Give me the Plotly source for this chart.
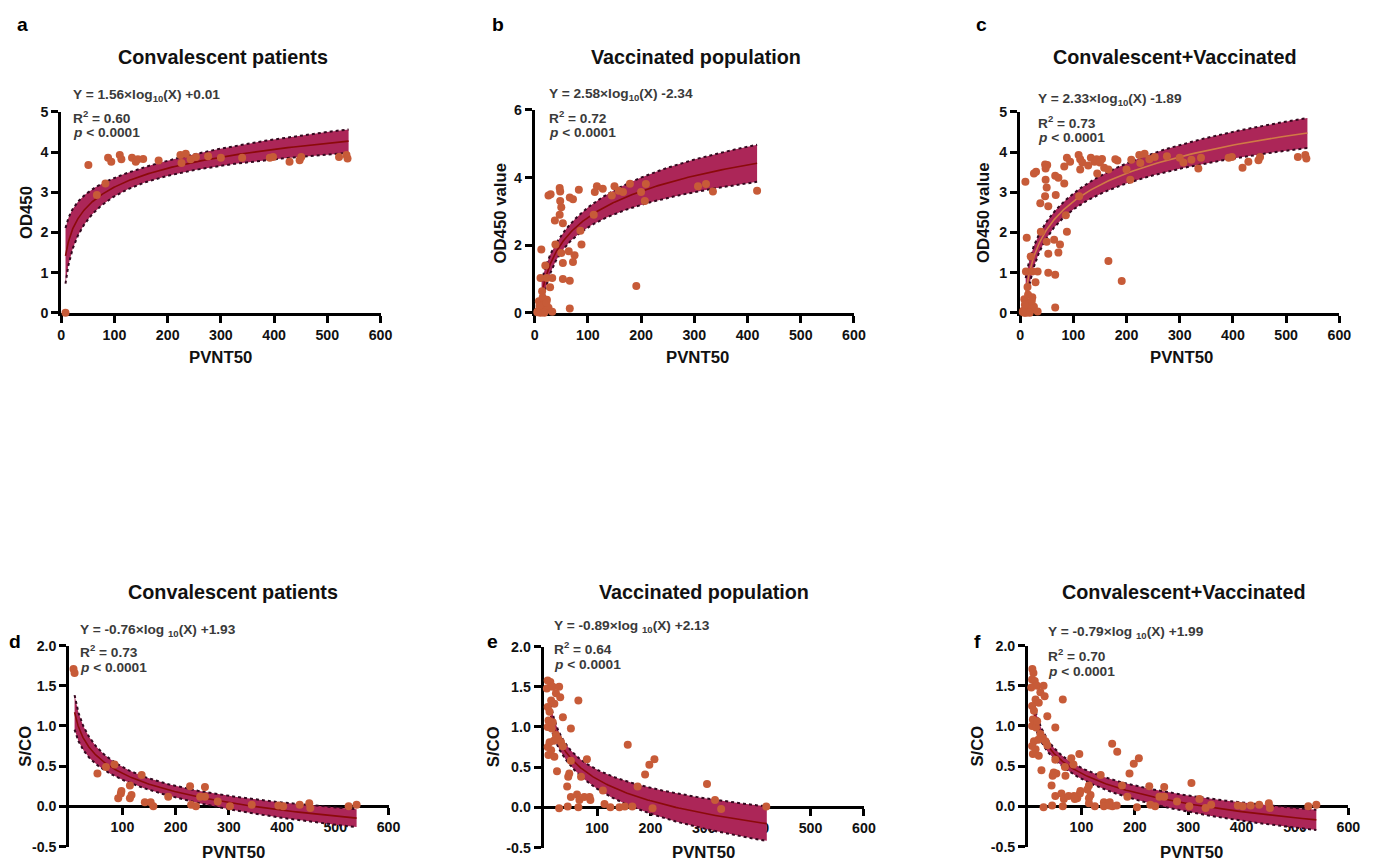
import numpy as np
import plotly.graph_objects as go

W, H = 1374, 862

# ---------------- data ----------------
# Convalescent patients: PVNT50 vs OD450
conv_od_x = [8, 51, 67, 83, 88, 94, 110, 113, 133, 140, 144, 154, 183, 224, 226, 234, 243, 253,
             276, 300, 340, 392, 398, 429, 448, 451, 522, 536, 538]
conv_od_y = [0.00, 3.68, 2.93, 3.22, 3.86, 3.76, 3.93, 3.82, 3.86, 3.76, 3.82, 3.83, 3.79, 3.93, 3.73,
             3.96, 3.82, 3.88, 3.90, 3.86, 3.86, 3.86, 3.88, 3.76, 3.80, 3.88, 3.88, 3.93, 3.84]

# Vaccinated population: PVNT50 vs OD450 value
vacc_od_x = [12.5, 26, 30, 47, 48, 48, 50, 47, 38, 53, 66, 72, 83, 113, 117, 128, 111, 86, 88, 39,
             50, 64, 75, 53, 72, 20, 11, 23, 53, 66, 29, 33, 14, 23, 8, 17, 11, 20, 26, 33,
             11, 6, 66, 145, 150, 158, 166, 179, 191, 200, 207, 209, 307, 322, 335, 418,
             15, 9, 18, 22, 5]
vacc_od_y = [1.87, 3.47, 3.51, 3.69, 3.59, 3.31, 3.12, 2.90, 2.73, 2.65, 3.41, 3.36, 3.64, 3.57, 3.74,
             3.67, 2.90, 2.43, 2.02, 2.02, 1.77, 1.82, 1.70, 1.47, 1.50, 1.40, 1.03, 1.03, 1.00, 0.95,
             0.76, 1.03, 0.64, 0.39, 0.34, 0.25, 0.13, 0.07, 0.15, 0.03, 0.00, 0.05, 0.13, 3.47, 3.74,
             3.61, 3.57, 3.82, 0.79, 3.57, 3.31, 3.81, 3.74, 3.81, 3.59, 3.61,
             0.45, 0.20, 0.00, 0.30, 0.02]

# Extra points only present in the combined OD450 panel
comb_od_extra_x = [10, 166]
comb_od_extra_y = [3.26, 1.29]

# Convalescent patients: PVNT50 vs S/CO
conv_sco_x = [8, 10, 53, 69, 85, 92, 97, 98, 114, 114, 117, 136, 142, 153, 158, 186, 227, 229, 238, 246,
              255, 255, 279, 302, 343, 393, 402, 433, 451, 453, 525, 540]
conv_sco_y = [1.71, 1.66, 0.41, 0.49, 0.52, 0.10, 0.16, 0.19, 0.26, 0.10, 0.14, 0.39, 0.05, 0.05, 0.00,
              0.12, 0.25, 0.02, 0.00, 0.12, 0.24, 0.12, 0.06, 0.00, 0.02, 0.01, 0.00, 0.02, 0.04, -0.02,
              0.00, 0.02]

# Vaccinated population: PVNT50 vs S/CO
vacc_sco_x = [7.5, 12.5, 6, 17, 29, 23, 31, 14, 20, 7.5, 11, 65, 36, 51, 9, 7.5, 15, 17, 23, 27.5,
              19, 32.5, 11, 7.5, 14, 36, 9, 20, 51, 81, 25, 48, 46, 70, 44, 51, 62.5, 67, 76, 86,
              87.5, 65, 29, 45, 111, 114, 125, 142, 152, 166, 157.5, 176, 190, 198, 207.5, 204, 306, 321,
              332.5, 417]
vacc_sco_y = [1.58, 1.56, 1.48, 1.50, 1.50, 1.42, 1.37, 1.33, 1.29, 1.25, 1.19, 1.33, 1.12, 0.98, 1.08,
              1.00, 0.98, 1.06, 0.90, 0.85, 0.83, 0.81, 0.81, 0.75, 0.71, 0.76, 0.65, 0.63, 0.58, 0.60,
              0.45, 0.42, 0.38, 0.38, 0.26, 0.13, 0.16, 0.09, 0.13, 0.13, 0.09, 0.00, -0.01, 0.01, 0.21,
              0.04, 0.00, 0.00, 0.01, 0.01, 0.78, 0.26, 0.41, 0.53, 0.60, -0.01, 0.29, 0.09, -0.02, 0.01]

# Extra points only present in the combined S/CO panel
comb_sco_extra_x = [167, 96]
comb_sco_extra_y = [0.68, 0.65]

# Fit results shown on each panel
panel_letters = ["a", "b", "c", "d", "e", "f"]
panel_titles = ["Convalescent patients", "Vaccinated population", "Convalescent+Vaccinated",
                "Convalescent patients", "Vaccinated population", "Convalescent+Vaccinated"]
y_titles = ["OD450", "OD450 value", "OD450 value", "S/CO", "S/CO", "S/CO"]
x_title = "PVNT50"
fit_slope = [1.56, 2.58, 2.33, -0.76, -0.89, -0.79]
fit_intercept = [0.01, -2.34, -1.89, 1.93, 2.13, 1.99]
fit_r2 = ["0.60", "0.72", "0.73", "0.73", "0.64", "0.70"]
fit_p = "0.0001"
fit_xmin = [8, 13, 10.5, 10, 13, 10]
fit_xmax = [540, 418, 540, 540, 418, 540]

x_ticks_top = [0, 100, 200, 300, 400, 500, 600]
x_ticks_bottom = [100, 200, 300, 400, 500, 600]
y_ticks = [[0, 1, 2, 3, 4, 5], [0, 2, 4, 6], [0, 1, 2, 3, 4, 5],
           [-0.5, 0, 0.5, 1.0, 1.5, 2.0], [-0.5, 0, 0.5, 1.0, 1.5, 2.0], [-0.5, 0, 0.5, 1.0, 1.5, 2.0]]
y_ticktext_bottom = ["-0.5", "0.0", "0.5", "1.0", "1.5", "2.0"]
y_ranges = [[0, 5], [0, 6], [0, 5], [-0.5, 2.0], [-0.5, 2.0], [-0.5, 2.0]]

panel_x = [conv_od_x, vacc_od_x, conv_od_x + vacc_od_x + comb_od_extra_x,
           conv_sco_x, vacc_sco_x, conv_sco_x + vacc_sco_x + comb_sco_extra_x]
panel_y = [conv_od_y, vacc_od_y, conv_od_y + vacc_od_y + comb_od_extra_y,
           conv_sco_y, vacc_sco_y, conv_sco_y + vacc_sco_y + comb_sco_extra_y]

# ---------------- layout geometry (target pixels in the photographed page) ----------------
# (left, right, top, bottom) of each plotting area
boxes = [(61, 380, 112, 313), (534, 853, 110, 313), (1019, 1338, 112, 313),
         (69, 388, 646, 847), (543, 863, 647, 848), (1027, 1347, 646, 847)]
letter_pos = [(22, 25), (497, 25), (980, 25), (15, 642), (492, 642), (976, 642)]
title_pos = [(223, 57), (695, 57), (1174, 57), (233, 592), (703, 592), (1183, 592)]
eq_pos = [(72, 96, 117, 133), (547, 95, 117, 133), (1036, 100, 122, 138),
          (79, 631, 651, 668), (552, 627, 648, 665), (1046, 633, 655, 672)]
ytitle_pos = [(27, 213), (500, 213), (983, 213), (25, 747), (493, 747), (977, 747)]
xtitle_pos = [(220, 358), (697, 358), (1180, 358), (233, 853), (703, 853), (1190, 853)]

# the page photograph is slightly shrunk / offset versus the figure; compensate
SX, CX = 0.9875, 3.8
SY, CY = 0.982, 8.0
FS = 1.0 / 0.985

PT_COLOR = "#C75B38"
BAND_COLOR = "rgb(172,38,88)"
EDGE_COLOR = "#35081f"
CURVE_COLORS = ["#8B0A0A", "#8B0A0A", "#D17A45", "#8B0A0A", "#8B0A0A", "#8B0A0A"]
FONT = "Liberation Sans, Arial, Helvetica, sans-serif"
TXT = "#3a3a3a"


def pxx(p):
    return ((p - CX) / SX) / W


def pxy(p):
    return 1 - ((p - CY) / SY) / H


fig = go.Figure()
annotations = []
layout = {}


def label(text, x, y, size, color="#111111", xanchor="center", angle=0):
    return dict(text=text, x=pxx(x), y=pxy(y), xref="paper", yref="paper", showarrow=False,
                xanchor=xanchor, yanchor="middle", textangle=angle, borderpad=0,
                font=dict(family=FONT, size=size * FS, color=color, weight="bold"))


for i in range(6):
    k = i + 1
    xs_ref = "x" if k == 1 else f"x{k}"
    ys_ref = "y" if k == 1 else f"y{k}"
    xa_name = "xaxis" if k == 1 else f"xaxis{k}"
    ya_name = "yaxis" if k == 1 else f"yaxis{k}"

    px_ = np.array(panel_x[i], dtype=float)
    py_ = np.array(panel_y[i], dtype=float)
    a, b = fit_slope[i], fit_intercept[i]

    # 95% confidence band of the log fit computed from the panel's points
    lx = np.log10(px_)
    n = len(px_)
    resid = py_ - (a * lx + b)
    s = np.sqrt(np.sum(resid ** 2) / (n - 2))
    m = lx.mean()
    sxx = np.sum((lx - m) ** 2)
    xs = np.geomspace(fit_xmin[i], fit_xmax[i], 160)
    lxs = np.log10(xs)
    yfit = a * lxs + b
    hw = 1.99 * s * np.sqrt(1.0 / n + (lxs - m) ** 2 / sxx)

    common = dict(xaxis=xs_ref, yaxis=ys_ref, showlegend=False, hoverinfo="skip")
    fig.add_trace(go.Scatter(x=xs, y=yfit - hw, mode="lines",
                             line=dict(color=EDGE_COLOR, width=2, dash="dot"), **common))
    fig.add_trace(go.Scatter(x=xs, y=yfit + hw, mode="lines", fill="tonexty", fillcolor=BAND_COLOR,
                             line=dict(color=EDGE_COLOR, width=2, dash="dot"), **common))
    fig.add_trace(go.Scatter(x=xs, y=yfit, mode="lines",
                             line=dict(color=CURVE_COLORS[i], width=1.6), **common))
    fig.add_trace(go.Scatter(x=px_, y=py_, mode="markers", cliponaxis=False,
                             marker=dict(color=PT_COLOR, size=8, line=dict(width=0)), **common))

    l, r, t, btm = boxes[i]
    tickfont = dict(family=FONT, size=14 * FS, color="#111111", weight="bold")
    axis_common = dict(showline=True, linecolor="black", linewidth=3, ticks="outside", ticklen=7,
                       tickwidth=3, tickcolor="black", tickfont=tickfont, showgrid=False,
                       zeroline=False, fixedrange=True, layer="below traces")
    ydom = [pxy(btm), pxy(t)]
    if i < 3:
        layout[xa_name] = dict(domain=[pxx(l), pxx(r)], range=[0, 600], anchor=ys_ref,
                               tickvals=x_ticks_top, **axis_common)
        layout[ya_name] = dict(domain=ydom, range=y_ranges[i], anchor=xs_ref,
                               tickvals=y_ticks[i], **axis_common)
    else:
        y0, y1 = y_ranges[i]
        zero_pos = ydom[0] + (0 - y0) / (y1 - y0) * (ydom[1] - ydom[0])
        layout[xa_name] = dict(domain=[pxx(l), pxx(r)], range=[0, 600], anchor="free",
                               position=zero_pos, tickvals=x_ticks_bottom, **axis_common)
        layout[ya_name] = dict(domain=ydom, range=y_ranges[i], anchor=xs_ref,
                               tickvals=y_ticks[i], ticktext=y_ticktext_bottom, **axis_common)

    annotations.append(label(panel_letters[i], *letter_pos[i], 19, "black"))
    annotations.append(label(panel_titles[i], *title_pos[i], 19.5))
    sp = " " if i >= 3 else ""
    sign = "+" if b >= 0 else "-"
    eq = f"Y = {a:.2f}×log{sp}<sub>10</sub>(X) {sign}{abs(b):.2f}"
    ex, ey1, ey2, ey3 = eq_pos[i]
    annotations.append(label(eq, ex, ey1, 13.5, TXT, "left"))
    annotations.append(label(f"R<sup>2</sup> = {fit_r2[i]}", ex, ey2, 13.5, TXT, "left"))
    annotations.append(label(f"<i>p</i> &lt; {fit_p}", ex, ey3, 13.5, TXT, "left"))
    annotations.append(label(y_titles[i], *ytitle_pos[i], 16.5, angle=-90))
    annotations.append(label(x_title, *xtitle_pos[i], 16.5))

fig.update_layout(width=W, height=H, margin=dict(l=0, r=0, t=0, b=0), autosize=False,
                  paper_bgcolor="white", plot_bgcolor="white", annotations=annotations,
                  font=dict(family=FONT), **layout)

fig.write_html("out.html", include_plotlyjs=True, config={"displayModeBar": False},
               post_script=("document.body.style.margin='0';"
                            "document.body.style.overflow='hidden';"
                            "document.documentElement.style.overflow='hidden';"))
